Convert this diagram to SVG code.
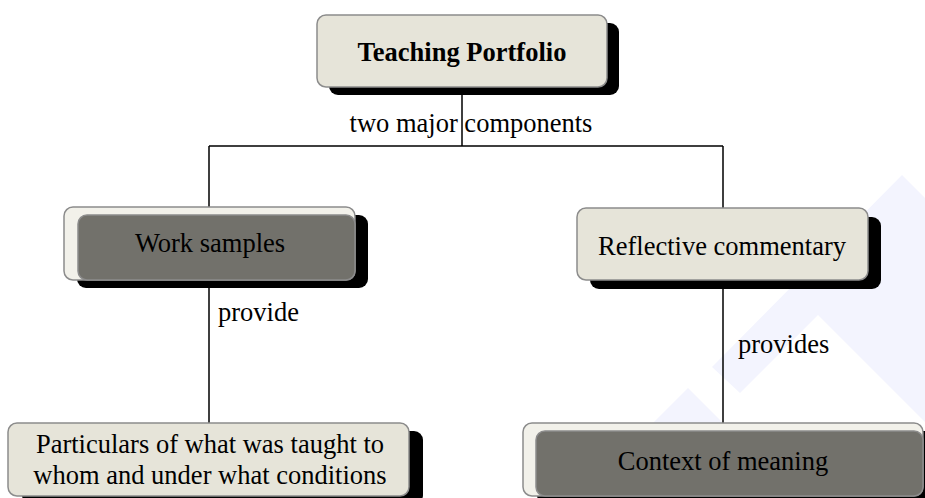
<svg xmlns="http://www.w3.org/2000/svg" width="925" height="498" viewBox="0 0 925 498">
<style>
.t{font-family:"Liberation Serif","Tinos","Times New Roman","DejaVu Serif",serif;font-size:26.5px;fill:#000}
.b{font-weight:bold}
.sh{fill:#000}
.lt{fill:#e6e4d9;stroke:#8c8c8c;stroke-width:1.5}
.bk{fill:#f2f1ea;stroke:#8c8c8c;stroke-width:1.5}
.dk{fill:#72716b;stroke:#8c8c8c;stroke-width:1.5}
.c{stroke:#000;stroke-width:1.5;fill:none}
.wm{fill:#f3f4fe}
</style>
<g id="watermark">
<polygon class="wm" points="902,175 925,198 925,422 818,315 740,393 712,367"/>
<polygon class="wm" points="688,388 728,428 648,428"/>
</g>
<g id="connectors">
<path class="c" d="M462,87 V146 M209,146 H723 M209,146 V207 M723,146 V208 M209,287 V423 M723,289 V423"/>
<text class="t" x="471" y="132" text-anchor="middle">two major components</text>
<text class="t" x="218" y="321">provide</text>
<text class="t" x="738" y="353">provides</text>
</g>
<g id="teaching-portfolio">
<rect class="sh" x="329" y="23" width="290" height="72" rx="9"/>
<rect class="lt" x="317" y="15" width="290" height="72" rx="9"/>
<text class="t b" x="462" y="61" text-anchor="middle">Teaching Portfolio</text>
</g>
<g id="work-samples">
<rect class="sh" x="77" y="215" width="291" height="73" rx="9"/>
<rect class="bk" x="64" y="207" width="291" height="73" rx="9"/>
<rect class="dk" x="78" y="215" width="277" height="65" rx="9"/>
<text class="t" x="210" y="252" text-anchor="middle">Work samples</text>
</g>
<g id="reflective-commentary">
<rect class="sh" x="590" y="217" width="291" height="72" rx="9"/>
<rect class="lt" x="577" y="208" width="291" height="72" rx="9"/>
<text class="t" x="722" y="255" text-anchor="middle">Reflective commentary</text>
</g>
<g id="particulars">
<rect class="sh" x="22" y="431" width="401" height="73" rx="9"/>
<rect class="lt" x="8" y="423" width="401" height="73" rx="9"/>
<text class="t" x="210" y="453" text-anchor="middle">Particulars of what was taught to</text>
<text class="t" x="210" y="484" text-anchor="middle">whom and under what conditions</text>
</g>
<g id="context-of-meaning">
<rect class="sh" x="537" y="431" width="401" height="73" rx="9"/>
<rect class="bk" x="523" y="423" width="400" height="73" rx="9"/>
<rect class="dk" x="536" y="431" width="387" height="65" rx="9"/>
<text class="t" x="723" y="470" text-anchor="middle">Context of meaning</text>
</g>
</svg>
